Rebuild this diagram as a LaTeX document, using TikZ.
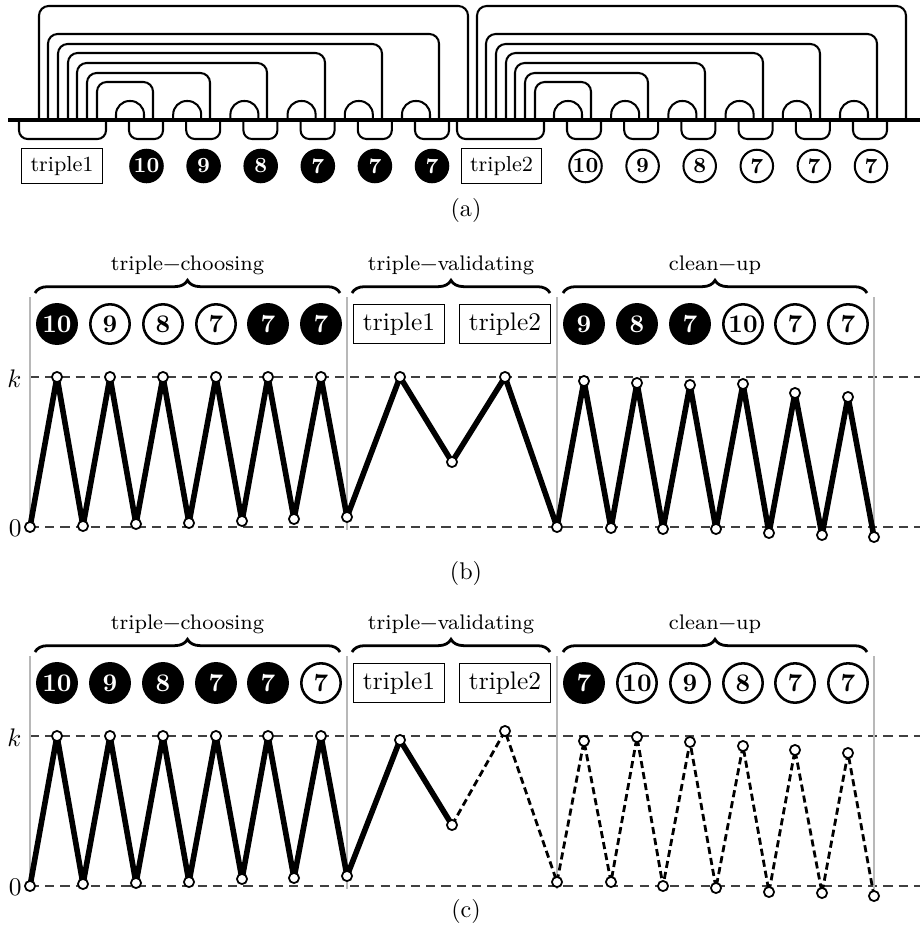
\documentclass[tikz,border=0pt]{standalone}
\usepackage{fontspec}
\usetikzlibrary{decorations.pathreplacing}
\tikzset{
  mainline/.style={line width=1.6pt},
  arcline/.style={line width=0.8pt, rounded corners=3.8pt},
  upbump/.style={line width=0.8pt, rounded corners=5.3pt},
  downbump/.style={line width=0.8pt, rounded corners=3.4pt},
  acirc/.style={circle, draw=black, line width=0.8pt, minimum size=12.8pt, inner sep=0pt, font=\fontsize{8.5}{9}\selectfont\bfseries},
  ablack/.style={acirc, fill=black, text=white},
  awhite/.style={acirc, fill=white},
  abox/.style={draw, line width=0.4pt, inner xsep=3.4pt, inner ysep=3.2pt, font=\fontsize{8.5}{9}\selectfont},
  bcirc/.style={circle, draw=black, line width=1pt, minimum size=15.5pt, inner sep=0pt, font=\fontsize{10}{12}\selectfont\bfseries},
  bblack/.style={bcirc, fill=black, text=white},
  bwhite/.style={bcirc, fill=white},
  bbox/.style={draw, line width=0.4pt, inner xsep=3.9pt, inner ysep=3.4pt, font=\fontsize{10}{12}\selectfont},
  phase/.style={decorate, decoration={brace, amplitude=5pt}, line width=1.1pt},
  phaselabel/.style={font=\fontsize{8.3}{9}\selectfont},
  sepline/.style={black!28, line width=0.9pt},
  levelline/.style={black!75, line width=0.6pt, dash pattern=on 3.6pt off 2.4pt},
  zig/.style={line width=2.2pt, line join=round},
  zigd/.style={line width=1.1pt, dash pattern=on 2.8pt off 1.6pt, line join=round},
  ptmark/.style={circle, draw, fill=white, line width=0.7pt, minimum size=4pt, inner sep=0pt},
  subcap/.style={font=\fontsize{9.5}{11}\selectfont},
  axislabel/.style={anchor=east, inner sep=0pt, font=\fontsize{10}{12}\selectfont}
}
\newcommand\panelframe[1]{%
  \draw[levelline] (30,377) -- (920,377);
  \draw[levelline] (30,527) -- (920,527);
  \foreach \x in {30,347,557,874} \draw[sepline] (\x,297) -- (\x,530);
  \node[axislabel] (#1k) at (22,379) {$k$};
  \node[axislabel] (#1z) at (22,528) {$0$};
  \draw[phase] (35,293) -- (340,293);
  \draw[phase] (352,293) -- (550,293);
  \draw[phase] (563,293) -- (867,293);
  \node[phaselabel] (#1ph1) at (187.5,265) {triple−choosing};
  \node[phaselabel] (#1ph2) at (451,265) {triple−validating};
  \node[phaselabel] (#1ph3) at (715,265) {clean−up};
  \node[bbox] (#1t1) at (399,324) {triple1};
  \node[bbox] (#1t2) at (505,324) {triple2};
}
\begin{document}
\begin{tikzpicture}[x=0.3937pt,y=-0.3937pt]
\useasboundingbox (0,0) rectangle (920,943);
% ---------------- (a) ----------------
\foreach \o in {0,438} {
  \foreach \l/\t/\r in {39/6/468,48/34/439,58/44/382,68/53/325,77/63/267,87/73/210,97/82/153}
    \draw[arcline] (\l+\o,120) -- (\l+\o,\t) -- (\r+\o,\t) -- (\r+\o,120);
  \foreach \i in {0,...,5} {
    \draw[upbump] ({116+57.2*\i+\o},120) -- ({116+57.2*\i+\o},101) -- ({144+57.2*\i+\o},101) -- ({144+57.2*\i+\o},120);
    \draw[downbump] ({129+57.2*\i+\o},120) -- ({129+57.2*\i+\o},139) -- ({163+57.2*\i+\o},139) -- ({163+57.2*\i+\o},120);
  }
  \draw[downbump] (19+\o,120) -- (19+\o,139) -- (106+\o,139) -- (106+\o,120);
}
\draw[mainline] (8,120) -- (920,120);
\node[abox] (at1) at (62,166) {triple1};
\node[abox] (at2) at (501.5,166) {triple2};
\foreach \v [count=\i from 0] in {10,9,8,7,7,7} {
  \node[ablack] (al\i) at ({146.5+57.1*\i},166) {\v};
  \node[awhite] (ar\i) at ({585.5+57.1*\i},166) {\v};
}
\node[subcap] (capa) at (466,210) {(a)};
% ---------------- (b) ----------------
\panelframe{b}
\foreach \x/\s/\v [count=\i] in {57/bblack/10,110/bwhite/9,163/bwhite/8,216/bwhite/7,268/bblack/7,321/bblack/7,584/bblack/9,637/bblack/8,690/bblack/7,743/bwhite/10,795/bwhite/7,848/bwhite/7}
  \node[\s] (bc\i) at (\x,324) {\v};
\foreach \x/\y [count=\i from 0] in {30/527,57/377,83/526,110/377,136/524,163/377,189/523,216/377,242/521,268/377,294/519,321/377,347/517,400/377,452/462,505/377,557/527,584/381,611/528,637/383,663/529,690/385,716/529,743/384,769/533,795/393,822/535,848/397,874/537}
  \coordinate (b\i) at (\x,\y);
\draw[zig] (b0) \foreach \i in {1,...,28} { -- (b\i) };
\foreach \i in {0,...,28} \node[ptmark] (bm\i) at (b\i) {};
\node[subcap] (capb) at (466,573) {(b)};
% ---------------- (c) ----------------
\begin{scope}[shift={(0,359)}]
\panelframe{c}
\foreach \x/\s/\v [count=\i] in {57/bblack/10,110/bblack/9,163/bblack/8,216/bblack/7,268/bblack/7,321/bwhite/7,584/bblack/7,637/bwhite/10,690/bwhite/9,743/bwhite/8,795/bwhite/7,848/bwhite/7}
  \node[\s] (cc\i) at (\x,324) {\v};
\end{scope}
\foreach \x/\y [count=\i from 0] in {30/886,57/736,83/884,110/736,136/883,163/736,189/882,216/736,242/879,268/736,294/878,321/736,347/876,400/740,452/825,505/731,557/882,584/741,611/882,637/737,663/886,690/742,716/888,743/746,769/892,795/750,822/893,848/753,874/896}
  \coordinate (c\i) at (\x,\y);
\draw[zig] (c0) \foreach \i in {1,...,14} { -- (c\i) };
\draw[zigd] (c14) \foreach \i in {15,...,28} { -- (c\i) };
\foreach \i in {0,...,28} \node[ptmark] (cm\i) at (c\i) {};
\node[subcap] (capc) at (466,911) {(c)};
\end{tikzpicture}
\end{document}
